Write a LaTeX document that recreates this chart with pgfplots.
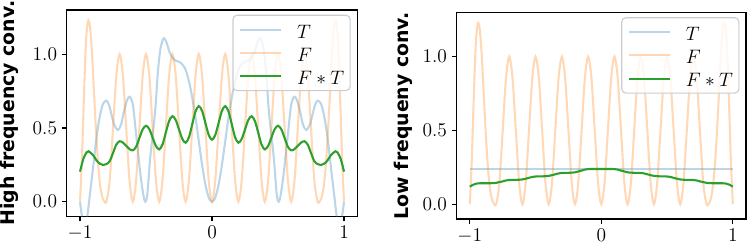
\RequirePackage{fix-cm}
\documentclass[border=0pt]{standalone}
\usepackage{fontspec}
\usepackage{pgfplots}
\usepackage{pgfplotstable}
\pgfplotsset{compat=1.18}
\newfontfamily\dvs{DejaVu Sans}
\definecolor{tabblue}{HTML}{1F77B4}
\definecolor{taborange}{HTML}{FF7F0E}
\definecolor{tabgreen}{HTML}{2CA02C}
\newcommand\lh{\rule[-2.5pt]{0pt}{14.56pt}}

\pgfplotstableread{
x y
-1.000 0.000
-0.985 0.300
-0.970 0.720
-0.955 1.080
-0.940 1.225
-0.925 1.190
-0.910 1.020
-0.895 0.760
-0.880 0.500
-0.865 0.280
-0.850 0.130
-0.835 0.045
-0.820 0.008
-0.800 0
-0.775 0.146
-0.750 0.5
-0.725 0.854
-0.700 1
-0.675 0.854
-0.650 0.5
-0.625 0.146
-0.600 0
-0.575 0.146
-0.550 0.5
-0.525 0.854
-0.500 1
-0.475 0.854
-0.450 0.5
-0.425 0.146
-0.400 0
-0.375 0.146
-0.350 0.5
-0.325 0.854
-0.300 1
-0.275 0.854
-0.250 0.5
-0.225 0.146
-0.200 0
-0.175 0.146
-0.150 0.5
-0.125 0.854
-0.100 1
-0.075 0.854
-0.050 0.5
-0.025 0.146
0.000 0
0.025 0.146
0.050 0.5
0.075 0.854
0.100 1
0.125 0.854
0.150 0.5
0.175 0.146
0.200 0
0.225 0.146
0.250 0.5
0.275 0.854
0.300 1
0.325 0.854
0.350 0.5
0.375 0.146
0.400 0
0.425 0.146
0.450 0.5
0.475 0.854
0.500 1
0.525 0.854
0.550 0.5
0.575 0.146
0.600 0
0.625 0.146
0.650 0.5
0.675 0.854
0.700 1
0.725 0.854
0.750 0.5
0.775 0.146
0.800 0
0.820 0.008
0.835 0.045
0.850 0.130
0.865 0.280
0.880 0.500
0.895 0.760
0.910 1.020
0.925 1.190
0.940 1.225
0.955 1.080
0.970 0.720
0.985 0.300
1.000 0.000
}\Ftable

\pgfplotstableread{
x y
-1.000 0.00
-0.985 -0.10
-0.965 -0.17
-0.945 -0.10
-0.925 0.05
-0.905 0.20
-0.885 0.36
-0.865 0.50
-0.845 0.60
-0.825 0.665
-0.800 0.685
-0.780 0.655
-0.760 0.585
-0.740 0.52
-0.714 0.486
-0.690 0.52
-0.670 0.60
-0.645 0.685
-0.624 0.712
-0.600 0.66
-0.580 0.50
-0.560 0.33
-0.540 0.17
-0.520 0.045
-0.505 0.00
-0.490 0.05
-0.470 0.28
-0.450 0.45
-0.430 0.62
-0.410 0.88
-0.390 1.04
-0.366 1.108
-0.345 1.08
-0.320 1.01
-0.290 0.965
-0.260 0.952
-0.242 0.945
-0.220 0.925
-0.200 0.895
-0.180 0.835
-0.160 0.755
-0.140 0.655
-0.120 0.54
-0.100 0.41
-0.080 0.28
-0.060 0.165
-0.040 0.075
-0.020 0.018
0.000 0.000
0.020 0.018
0.040 0.075
0.060 0.165
0.080 0.28
0.100 0.41
0.120 0.54
0.140 0.655
0.160 0.755
0.180 0.835
0.200 0.895
0.220 0.925
0.242 0.945
0.260 0.952
0.290 0.965
0.320 1.01
0.345 1.08
0.366 1.108
0.390 1.04
0.410 0.88
0.430 0.62
0.450 0.45
0.470 0.28
0.490 0.05
0.505 0.00
0.520 0.045
0.540 0.17
0.560 0.33
0.580 0.50
0.600 0.66
0.624 0.712
0.645 0.685
0.670 0.60
0.690 0.52
0.714 0.486
0.740 0.52
0.760 0.585
0.780 0.655
0.800 0.685
0.825 0.665
0.845 0.60
0.865 0.50
0.885 0.36
0.905 0.20
0.925 0.05
0.945 -0.10
0.965 -0.17
0.985 -0.10
1.000 0.00
}\Thigh

\pgfplotstableread{
x y
-1.000 0.204
-0.975 0.290
-0.950 0.335
-0.935 0.342
-0.900 0.315
-0.875 0.280
-0.850 0.258
-0.825 0.249
-0.800 0.255
-0.775 0.275
-0.750 0.330
-0.725 0.387
-0.700 0.410
-0.675 0.401
-0.650 0.379
-0.625 0.357
-0.600 0.348
-0.575 0.372
-0.550 0.432
-0.525 0.491
-0.500 0.515
-0.475 0.492
-0.450 0.435
-0.425 0.378
-0.400 0.355
-0.375 0.388
-0.350 0.468
-0.325 0.547
-0.300 0.580
-0.275 0.554
-0.250 0.490
-0.225 0.426
-0.200 0.400
-0.175 0.436
-0.150 0.524
-0.125 0.612
-0.100 0.648
-0.075 0.615
-0.050 0.534
-0.025 0.453
0.000 0.420
0.025 0.453
0.050 0.534
0.075 0.615
0.100 0.648
0.125 0.612
0.150 0.524
0.175 0.436
0.200 0.400
0.225 0.426
0.250 0.490
0.275 0.554
0.300 0.580
0.325 0.547
0.350 0.468
0.375 0.388
0.400 0.355
0.425 0.378
0.450 0.435
0.475 0.492
0.500 0.515
0.525 0.491
0.550 0.432
0.575 0.372
0.600 0.348
0.625 0.357
0.650 0.379
0.675 0.401
0.700 0.410
0.725 0.387
0.750 0.330
0.775 0.275
0.800 0.255
0.825 0.249
0.850 0.258
0.875 0.280
0.900 0.315
0.935 0.342
0.950 0.335
0.975 0.290
1.000 0.204
}\FThigh

\pgfplotstableread{
x y
-1.000 0.240
1.000 0.240
}\Tlow

\pgfplotstableread{
x y
-1.000 0.119
-0.975 0.132
-0.950 0.140
-0.925 0.142
-0.900 0.142
-0.875 0.142
-0.850 0.142
-0.825 0.143
-0.800 0.145
-0.775 0.150
-0.750 0.155
-0.725 0.161
-0.700 0.164
-0.675 0.165
-0.650 0.165
-0.625 0.166
-0.600 0.168
-0.575 0.173
-0.550 0.179
-0.525 0.185
-0.500 0.188
-0.475 0.189
-0.450 0.189
-0.425 0.190
-0.400 0.192
-0.375 0.197
-0.350 0.203
-0.325 0.209
-0.300 0.212
-0.275 0.213
-0.250 0.213
-0.225 0.214
-0.200 0.216
-0.175 0.222
-0.150 0.228
-0.125 0.235
-0.100 0.238
-0.075 0.239
-0.050 0.239
-0.025 0.239
0.000 0.239
0.025 0.239
0.050 0.239
0.075 0.239
0.100 0.238
0.125 0.235
0.150 0.228
0.175 0.222
0.200 0.216
0.225 0.214
0.250 0.213
0.275 0.213
0.300 0.212
0.325 0.209
0.350 0.203
0.375 0.197
0.400 0.192
0.425 0.190
0.450 0.189
0.475 0.189
0.500 0.188
0.525 0.185
0.550 0.179
0.575 0.173
0.600 0.168
0.625 0.166
0.650 0.165
0.675 0.165
0.700 0.164
0.725 0.161
0.750 0.155
0.775 0.150
0.800 0.145
0.825 0.143
0.850 0.142
0.875 0.142
0.900 0.142
0.925 0.142
0.950 0.140
0.975 0.132
1.000 0.119
}\FTlow

\pgfplotsset{
  myax/.style={
    scale only axis,
    height=148.7pt,
    xmin=-1.1, xmax=1.1, ymin=-0.1, ymax=1.3,
    xtick={-1,0,1}, ytick={0,0.5,1},
    yticklabel style={/pgf/number format/.cd, fixed, fixed zerofill, precision=1},
    tick align=outside, tick pos=left, major tick length=3.5pt,
    every tick/.style={black, line width=0.8pt},
    axis line style={line width=0.8pt},
    tick label style={font=\fontsize{14}{16}\selectfont},
    legend style={at={(1,1)}, anchor=north east, xshift=-4.7pt, yshift=-3.4pt,
      font=\fontsize{14}{16}\selectfont, draw=black!20, line width=0.8pt,
      fill=white, fill opacity=0.8, text opacity=1, draw opacity=1,
      rounded corners=3pt, row sep=4.64pt, inner xsep=4.3pt, inner ysep=4.4pt,
      nodes={inner sep=0pt, text depth=0pt}},
    legend cell align=left,
    legend image code/.code={\draw (0pt,0pt) -- (29.5pt,0pt); \path (40.3pt,0pt);},
  },
  tl/.style={tabblue, draw opacity=0.3, line width=1.5pt},
  fl/.style={taborange, draw opacity=0.3, line width=1.5pt},
  gl/.style={tabgreen, line width=1.5pt},
}

\begin{document}
\begin{tikzpicture}
\useasboundingbox (0,0) rectangle (538.56pt,174.96pt);
\begin{axis}[myax, at={(48.1pt,19.1pt)}, anchor=south west, width=209.1pt,
  ylabel={High frequency conv.},
  ylabel style={font=\dvs\bfseries\fontsize{13.6}{16}\selectfont, at={(axis description cs:-0.1817,0.5)}, rotate=0, anchor=base}]
\addplot[tl, smooth] table {\Thigh};
\addplot[fl, smooth] table {\Ftable};
\addplot[gl, smooth] table {\FThigh};
\legend{$T$\lh,$F$\lh,$F*T$\lh}
\end{axis}
\begin{axis}[myax, at={(328.8pt,17.3pt)}, anchor=south west, width=208.3pt,
  ylabel={Low frequeny conv.},
  ylabel style={font=\dvs\bfseries\fontsize{13.6}{16}\selectfont, at={(axis description cs:-0.1666,0.5)}, rotate=0, anchor=base}]
\addplot[tl] table {\Tlow};
\addplot[fl, smooth] table {\Ftable};
\addplot[gl, smooth] table {\FTlow};
\legend{$T$\lh,$F$\lh,$F*T$\lh}
\end{axis}
\end{tikzpicture}
\end{document}
